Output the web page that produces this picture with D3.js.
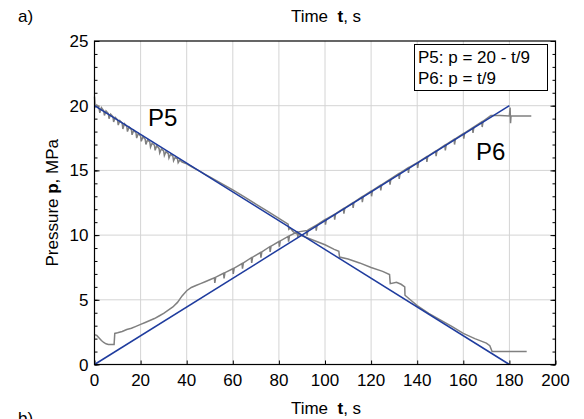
<!DOCTYPE html>
<html>
<head>
<meta charset="utf-8">
<script src="https://cdn.jsdelivr.net/npm/d3@7"></script>
<style>
  body { margin: 0; background: #fff; }
  text { font-family: "Liberation Sans", Arial, sans-serif; fill: #000; }
</style>
</head>
<body>
<div id="container"></div>
<script>
	// theoretical lines
	var p5Line = [[0, 20], [180, 0]];
	var p6Line = [[0, 0], [180, 20]];

	var p5Meas = [
		[0,20.7],[0.3,19.9],[1,20.05],[2,19.8],[2.3,19.45],[3,19.85],[4,19.6],[4.3,19.25],[5,19.6],[6,19.4],[6.3,19.0],
		[7,19.35],[8,19.15],[8.3,18.75],[9,19.1],[10,18.9],[10.3,18.5],[11,18.85],[12,18.65],[12.3,18.2],[13,18.6],
		[14,18.4],[14.3,18.0],[15,18.35],[16,18.15],[16.3,17.75],[17,18.1],[18,17.9],[18.3,17.5],[19,17.85],[20,17.65],
		[20.3,17.25],[21,17.6],[22,17.4],[22.3,17.0],[23,17.35],[24,17.2],[24.3,16.8],[25,17.1],[26,16.95],[26.3,16.55],
		[27,16.9],[28,16.7],[28.3,16.35],[29,16.65],[30,16.5],[30.3,16.15],[31,16.45],[32,16.3],[32.3,15.95],[33,16.25],
		[34,16.1],[34.3,15.75],[35,16.0],[36,15.9],[36.3,15.6],[37,15.8],[38,15.65],[40,15.5],[42,15.3],[44,15.1],
		[46,14.9],[48,14.7],[50,14.5],[55,14.0],[60,13.5],[65,12.95],[70,12.4],[75,11.85],[80,11.3],[84,10.85],
		[84.3,10.45],[85,10.55],[86,10.3],[87,10.15],[90,9.95],[95,9.6],[100,9.25],[104,8.9],[106,8.75],[106.3,8.3],
		[110,8.15],[115,7.85],[120,7.5],[125,7.2],[128,6.95],[128.3,6.25],[131,6.35],[133,6.2],[134.6,6.0],[134.7,5.35],
		[137,5.0],[140,4.55],[145,3.95],[150,3.45],[155,2.95],[160,2.4],[165,2.0],[170,1.65],[171.5,1.45],[172.5,1.0],
		[178,1.0],[187.5,1.0]
	];

	var p6Meas = [
		[0,2.3],[1,2.25],[2,2.05],[3,1.85],[4,1.7],[5,1.6],[6,1.55],[8.5,1.55],[8.8,2.4],[10,2.45],
		[12,2.55],[14,2.7],[16,2.8],[18,2.95],[20,3.1],[22,3.25],[24,3.4],[26,3.55],[28,3.75],[30,3.95],
		[32,4.2],[34,4.45],[36,4.8],[38,5.3],[40,5.7],[42,5.95],[44,6.1],[46,6.25],[48,6.4],[50,6.55],
		[52,6.7],[52.2,6.3],[52.6,6.75],[56,7.05],[56.2,6.65],[56.6,7.1],[60,7.4],[60.2,7.0],[60.6,7.45],
		[64,7.8],[64.2,7.4],[64.6,7.85],[68,8.25],[68.2,7.85],[68.6,8.3],[72,8.65],[72.2,8.25],[72.6,8.7],
		[76,9.1],[76.2,8.7],[76.6,9.15],[80,9.5],[80.2,9.1],[80.6,9.55],[84,9.9],[84.2,9.5],[84.6,9.95],
		[88,10.25],[88.2,9.85],[88.6,10.25],[92,10.35],[92.2,9.95],[92.6,10.4],[96,10.75],[96.2,10.35],[96.6,10.8],
		[100,11.2],[100.2,10.8],[100.6,11.25],[104,11.6],[104.2,11.2],[104.6,11.65],[108,12.05],[108.2,11.65],[108.6,12.1],
		[112,12.5],[112.2,12.1],[112.6,12.55],[116,12.95],[116.2,12.55],[116.6,13.0],[120,13.4],[120.2,13.0],[120.6,13.45],
		[124,13.85],[124.2,13.45],[124.6,13.9],[128,14.3],[128.2,13.9],[128.6,14.35],[132,14.75],[132.2,14.35],[132.6,14.8],
		[136,15.2],[136.2,14.8],[136.6,15.25],[140,15.6],[140.2,15.2],[140.6,15.65],[144,16.05],[144.2,15.65],[144.6,16.1],
		[148,16.5],[148.2,16.1],[148.6,16.55],[152,16.95],[152.2,16.55],[152.6,17.0],[156,17.4],[156.2,17.0],[156.6,17.45],
		[160,17.85],[160.2,17.45],[160.6,17.9],[164,18.3],[164.2,17.9],[164.6,18.35],[168,18.75],[168.2,18.35],[168.6,18.8],
		[172,19.25],[176,19.25],[180,19.2],[180.3,19.85],[180.5,18.65],[180.7,19.2],[189.5,19.2]
	];

	var xTicks = [0, 20, 40, 60, 80, 100, 120, 140, 160, 180, 200];
	var yTicks = [0, 5, 10, 15, 20, 25];
	var yMinor = d3.range(0, 26, 1);
	var legendLines = ["P5: p = 20 - t/9", "P6: p = t/9"];

	var width = 584, height = 419;
	var mLeft = 94.5, mRight = 555.5, mTop = 41, mBottom = 364.5;

	var svg = d3.select("#container").append("svg")
		.attr("width", width).attr("height", height);

	var x = d3.scaleLinear().domain([0, 200]).range([mLeft, mRight]);
	var y = d3.scaleLinear().domain([0, 25]).range([mBottom, mTop]);

	// grid
	svg.append("g").selectAll("line").data(xTicks.slice(1, -1))
		.join("line")
		.attr("x1", d => x(d)).attr("x2", d => x(d))
		.attr("y1", mTop).attr("y2", mBottom)
		.attr("stroke", "#d4d4d4").attr("stroke-width", 1);
	svg.append("g").selectAll("line").data(yTicks.slice(1, -1))
		.join("line")
		.attr("x1", mLeft).attr("x2", mRight)
		.attr("y1", d => y(d)).attr("y2", d => y(d))
		.attr("stroke", "#d4d4d4").attr("stroke-width", 1);

	// axes with inward ticks
	var noLabel = () => "";
	svg.append("g").attr("transform", "translate(" + mLeft + ",0)")
		.call(d3.axisRight(y).tickValues(yMinor).tickSize(3).tickFormat(noLabel))
		.call(g => g.select(".domain").remove());
	svg.append("g").attr("transform", "translate(" + mRight + ",0)")
		.call(d3.axisLeft(y).tickValues(yMinor).tickSize(3).tickFormat(noLabel))
		.call(g => g.select(".domain").remove());
	svg.append("g").attr("transform", "translate(" + mLeft + ",0)")
		.call(d3.axisRight(y).tickValues(yTicks).tickSize(5).tickFormat(noLabel))
		.call(g => g.select(".domain").remove());
	svg.append("g").attr("transform", "translate(" + mRight + ",0)")
		.call(d3.axisLeft(y).tickValues(yTicks).tickSize(5).tickFormat(noLabel))
		.call(g => g.select(".domain").remove());
	svg.append("g").attr("transform", "translate(0," + mBottom + ")")
		.call(d3.axisTop(x).tickValues(xTicks).tickSize(4).tickFormat(noLabel))
		.call(g => g.select(".domain").remove());

	// tick labels
	svg.append("g").selectAll("text").data(yTicks)
		.join("text")
		.attr("x", mLeft - 6).attr("y", d => y(d) + 6)
		.attr("text-anchor", "end").style("font-size", "17px")
		.text(d => d);
	svg.append("g").selectAll("text").data(xTicks)
		.join("text")
		.attr("x", d => x(d)).attr("y", mBottom + 21)
		.attr("text-anchor", "middle").style("font-size", "17px")
		.text(d => d);

	// lines
	var line = d3.line().x(d => x(d[0])).y(d => y(d[1]));

	svg.append("path").datum(p5Meas).attr("d", line)
		.attr("fill", "none").attr("stroke", "#808080").attr("stroke-width", 1.5);
	svg.append("path").datum(p6Meas).attr("d", line)
		.attr("fill", "none").attr("stroke", "#808080").attr("stroke-width", 1.5);
	svg.append("path").datum(p5Line).attr("d", line)
		.attr("fill", "none").attr("stroke", "#1f3c9e").attr("stroke-width", 1.5);
	svg.append("path").datum(p6Line).attr("d", line)
		.attr("fill", "none").attr("stroke", "#1f3c9e").attr("stroke-width", 1.5);

	// frame
	svg.append("rect")
		.attr("x", mLeft).attr("y", mTop)
		.attr("width", mRight - mLeft).attr("height", mBottom - mTop)
		.attr("fill", "none").attr("stroke", "#000").attr("stroke-width", 1.2);

	// legend
	svg.append("rect")
		.attr("x", 414.5).attr("y", 44.5).attr("width", 133).attr("height", 46)
		.attr("fill", "#fff").attr("stroke", "#000").attr("stroke-width", 1);
	svg.append("g").selectAll("text").data(legendLines)
		.join("text")
		.attr("x", 418).attr("y", (d, i) => 63 + i * 21)
		.style("font-size", "17px").style("white-space", "pre")
		.text(d => d);

	// curve labels
	svg.append("text").attr("x", 148).attr("y", 126)
		.style("font-size", "24px").text("P5");
	svg.append("text").attr("x", 476).attr("y", 160)
		.style("font-size", "24px").text("P6");

	// titles
	function timeTitle(yPos) {
		var t = svg.append("text").attr("x", 326).attr("y", yPos)
			.attr("text-anchor", "middle").style("font-size", "17px").style("white-space", "pre");
		t.append("tspan").text("Time  ");
		t.append("tspan").style("font-weight", "bold").text("t");
		t.append("tspan").text(", s");
	}
	timeTitle(22);
	timeTitle(414);

	var yl = svg.append("text")
		.attr("transform", "translate(58," + ((mTop + mBottom) / 2) + ") rotate(-90)")
		.attr("text-anchor", "middle").style("font-size", "17px").style("white-space", "pre");
	yl.append("tspan").text("Pressure ");
	yl.append("tspan").style("font-weight", "bold").text("p");
	yl.append("tspan").text(", MPa");

	svg.append("text").attr("x", 18).attr("y", 424).style("font-size", "17px").text("b)");
	svg.append("text").attr("x", 18).attr("y", 22).style("font-size", "17px").text("a)");
</script>
</body>
</html>
